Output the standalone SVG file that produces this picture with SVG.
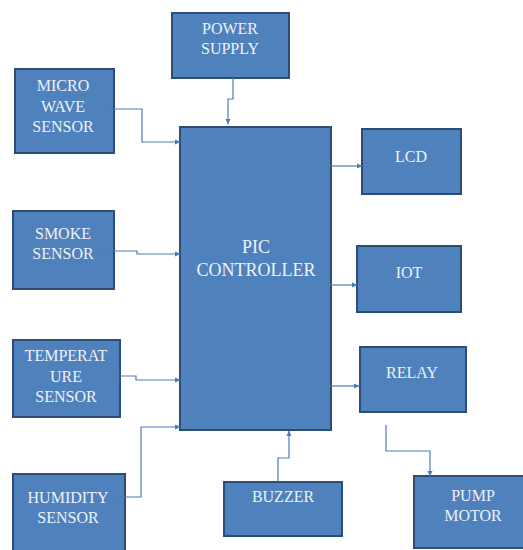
<svg xmlns="http://www.w3.org/2000/svg" width="523" height="550" viewBox="0 0 523 550">
<style>
.box{fill:#4f81bd;stroke:#2c4d75;stroke-width:2}
.t{font-family:"Liberation Serif","Times New Roman",serif;font-size:16px;fill:#eef2f8;text-anchor:middle}
.big{font-size:18px}
.c{fill:none;stroke:#4a7ebb;stroke-width:1.2}
</style>
<defs>
<marker id="a" markerWidth="6" markerHeight="6" refX="5" refY="3" orient="auto" markerUnits="userSpaceOnUse">
<path d="M0,0.5 L5.5,3 L0,5.5 Z" fill="#4a7ebb"/>
</marker>
</defs>
<rect width="523" height="550" fill="#fff"/>
<g id="power"><rect class="box" x="172" y="13" width="117" height="65"/><text class="t" x="230" y="34">POWER</text><text class="t" x="230" y="54">SUPPLY</text></g>
<g id="micro"><rect class="box" x="15" y="69" width="99" height="84"/><text class="t" x="63" y="91">MICRO</text><text class="t" x="63" y="112">WAVE</text><text class="t" x="63" y="132">SENSOR</text></g>
<g id="pic"><rect class="box" x="180" y="127" width="151" height="303"/><text class="t big" x="256" y="253">PIC</text><text class="t big" x="256" y="276">CONTROLLER</text></g>
<g id="lcd"><rect class="box" x="362" y="129" width="99" height="65"/><text class="t" x="411" y="162">LCD</text></g>
<g id="smoke"><rect class="box" x="13" y="211" width="101" height="78"/><text class="t" x="63" y="239">SMOKE</text><text class="t" x="63" y="259">SENSOR</text></g>
<g id="iot"><rect class="box" x="357" y="246" width="104" height="66"/><text class="t" x="409" y="278">IOT</text></g>
<g id="temp"><rect class="box" x="13" y="340" width="107" height="77"/><text class="t" x="66" y="361">TEMPERAT</text><text class="t" x="66" y="382">URE</text><text class="t" x="66" y="402">SENSOR</text></g>
<g id="relay"><rect class="box" x="360" y="347" width="106" height="65"/><text class="t" x="412" y="378">RELAY</text></g>
<g id="humidity"><rect class="box" x="13" y="474" width="112" height="80"/><text class="t" x="68" y="503">HUMIDITY</text><text class="t" x="68" y="523">SENSOR</text></g>
<g id="buzzer"><rect class="box" x="224" y="482" width="118" height="54"/><text class="t" x="283" y="502">BUZZER</text></g>
<g id="pump"><rect class="box" x="414" y="476" width="112" height="72"/><text class="t" x="473" y="501">PUMP</text><text class="t" x="473" y="521">MOTOR</text></g>
<g id="connectors">
<path class="c" d="M233,78 V99 H228 V124" marker-end="url(#a)"/>
<path class="c" d="M102,109 H142 V142 H180" marker-end="url(#a)"/>
<path class="c" d="M331,166 H362" marker-end="url(#a)"/>
<path class="c" d="M95,251 H137 V254 H180" marker-end="url(#a)"/>
<path class="c" d="M327,285 H357" marker-end="url(#a)"/>
<path class="c" d="M90,376 H136 V380 H180" marker-end="url(#a)"/>
<path class="c" d="M330,386 H359" marker-end="url(#a)"/>
<path class="c" d="M108,497 H141 V427 H180" marker-end="url(#a)"/>
<path class="c" d="M278,482 V458 H289 V431" marker-end="url(#a)"/>
<path class="c" d="M386,425 V451 H430 V476" marker-end="url(#a)"/>
</g>
</svg>
